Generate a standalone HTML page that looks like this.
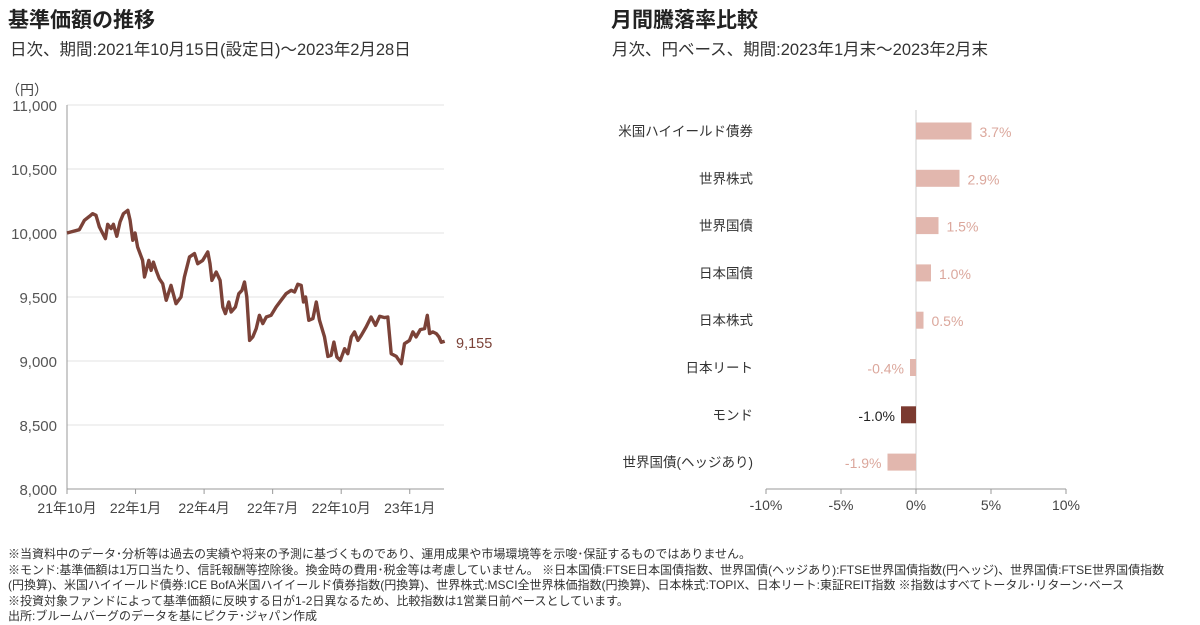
<!DOCTYPE html>
<html><head><meta charset="utf-8">
<style>
body{margin:0;width:1200px;height:625px;background:#fff;overflow:hidden;font-family:"Liberation Sans","Noto Sans CJK JP",sans-serif;color:#333}
.t{position:absolute;white-space:nowrap}
</style></head><body>
<div class="t" style="left:8px;top:4px;font-size:21px;font-weight:bold;color:#222">基準価額の推移</div>
<div class="t" style="left:10px;top:36px;font-size:16.5px;color:#333">日次、期間:2021年10月15日(設定日)～2023年2月28日</div>
<div class="t" style="left:611px;top:4px;font-size:21px;font-weight:bold;color:#222">月間騰落率比較</div>
<div class="t" style="left:612px;top:36px;font-size:16.5px;color:#333">月次、円ベース、期間:2023年1月末～2023年2月末</div>
<svg id="line" style="position:absolute;left:0;top:0" width="600" height="540"></svg>
<svg id="bar" style="position:absolute;left:600px;top:0" width="600" height="540"></svg>
<div class="t" style="left:8px;top:547px;font-size:12px;line-height:15.6px;color:#333">
※当資料中のデータ･分析等は過去の実績や将来の予測に基づくものであり、運用成果や市場環境等を示唆･保証するものではありません。<br>
※モンド:基準価額は1万口当たり、信託報酬等控除後。換金時の費用･税金等は考慮していません。 ※日本国債:FTSE日本国債指数、世界国債(ヘッジあり):FTSE世界国債指数(円ヘッジ)、世界国債:FTSE世界国債指数<br>
(円換算)、米国ハイイールド債券:ICE BofA米国ハイイールド債券指数(円換算)、世界株式:MSCI全世界株価指数(円換算)、日本株式:TOPIX、日本リート:東証REIT指数 ※指数はすべてトータル･リターン･ベース<br>
※投資対象ファンドによって基準価額に反映する日が1-2日異なるため、比較指数は1営業日前ベースとしています。<br>
出所:ブルームバーグのデータを基にピクテ･ジャパン作成</div>
<script>
const months=[0,0.54,0.76,0.98,1.12,1.27,1.42,1.68,1.78,1.93,2.03,2.18,2.32,2.47,2.66,2.76,2.88,2.98,3.09,3.31,3.39,3.58,3.68,3.78,3.90,4.04,4.19,4.34,4.55,4.77,4.99,5.14,5.36,5.58,5.72,5.94,6.16,6.26,6.34,6.53,6.70,6.82,6.93,7.08,7.18,7.37,7.52,7.66,7.77,7.87,7.99,8.13,8.28,8.42,8.57,8.72,8.93,9.15,9.37,9.59,9.81,9.96,10.10,10.25,10.35,10.44,10.58,10.76,10.91,11.05,11.27,11.42,11.56,11.68,11.81,11.96,12.15,12.29,12.44,12.58,12.73,12.88,13.09,13.31,13.50,13.68,13.90,14.04,14.19,14.41,14.63,14.77,14.99,15.14,15.28,15.46,15.65,15.77,15.87,16.01,16.16,16.28,16.38,16.53];
const navValues=[10000,10026,10099,10130,10151,10138,10047,9956,10068,10034,10068,9974,10086,10151,10177,10099,9943,10000,9891,9786,9656,9786,9708,9773,9708,9643,9604,9474,9591,9448,9500,9656,9813,9839,9760,9786,9852,9760,9630,9695,9630,9422,9370,9461,9383,9422,9526,9552,9617,9500,9161,9188,9253,9357,9292,9344,9357,9422,9474,9526,9552,9539,9599,9591,9461,9500,9318,9331,9461,9318,9188,9036,9044,9148,9031,9005,9096,9057,9188,9227,9161,9201,9266,9344,9279,9349,9339,9344,9057,9036,8979,9135,9161,9227,9188,9245,9253,9357,9214,9227,9214,9188,9146,9155];
const yTicks=[8000,8500,9000,9500,10000,10500,11000];
const yTickLabels=["8,000","8,500","9,000","9,500","10,000","10,500","11,000"];
const xTickMonths=[0,3,6,9,12,15];
const xTickLabels=["21年10月","22年1月","22年4月","22年7月","22年10月","23年1月"];
const lastLabel="9,155";
const categories=["米国ハイイールド債券","世界株式","世界国債","日本国債","日本株式","日本リート","モンド","世界国債(ヘッジあり)"];
const returns=[3.7,2.9,1.5,1.0,0.5,-0.4,-1.0,-1.9];
const highlight=[false,false,false,false,false,false,true,false];
const pctTicks=[-10,-5,0,5,10];
const pctLabels=["-10%","-5%","0%","5%","10%"];
const NS="http://www.w3.org/2000/svg";
function mk(svg,tag,attrs,txt){const e=document.createElementNS(NS,tag);for(const k in attrs)e.setAttribute(k,attrs[k]);if(txt!==undefined)e.textContent=txt;svg.appendChild(e);return e;}
const F='"Liberation Sans","Noto Sans CJK JP",sans-serif';
const L=document.getElementById('line');
const xs=m=>67+m*22.85, ys=v=>489-(v-8000)*0.128;
const un=mk(L,'text',{x:6,y:95,'font-size':14,fill:'#444','font-family':F},'（円）');


yTicks.forEach((t,i)=>{
 if(t>8000){const g=mk(L,'line',{x1:67,x2:444,y1:ys(t),y2:ys(t),stroke:'#e3e3e3'});}
 const tx=mk(L,'text',{x:57,y:ys(t)+6,'text-anchor':'end','font-size':15,fill:'#555','font-family':F},yTickLabels[i]);
 
});
mk(L,'line',{x1:67,x2:67,y1:105,y2:489,stroke:'#999'});
mk(L,'line',{x1:67,x2:444,y1:489,y2:489,stroke:'#999'});
xTickMonths.forEach((m,i)=>{
 mk(L,'line',{x1:xs(m),x2:xs(m),y1:489,y2:494,stroke:'#999'});
 const tx=mk(L,'text',{x:xs(m),y:513,'text-anchor':'middle','font-size':14,fill:'#444','font-family':F},xTickLabels[i]);
 
});
const p=mk(L,'path',{d:months.map((m,i)=>(i?'L':'M')+xs(m).toFixed(1)+','+ys(navValues[i]).toFixed(1)).join(''),fill:'none',stroke:'#7b4238','stroke-width':3.4,'stroke-linejoin':'round'});

const ll=mk(L,'text',{x:456,y:ys(navValues[navValues.length-1])+7,'font-size':14.5,fill:'#7b4238','font-family':F},lastLabel);

const B=document.getElementById('bar');
const bx=v=>316+v*15;
const by=i=>131+i*47.3;
mk(B,'line',{x1:bx(0),x2:bx(0),y1:110,y2:489,stroke:'#ccc'});
mk(B,'line',{x1:bx(-10),x2:bx(10),y1:489,y2:489,stroke:'#999'});
pctTicks.forEach((t,i)=>{
 mk(B,'line',{x1:bx(t),x2:bx(t),y1:489,y2:494,stroke:'#999'});
 const tx=mk(B,'text',{x:bx(t),y:510,'text-anchor':'middle','font-size':14,fill:'#444','font-family':F},pctLabels[i]);
 
});
categories.forEach((c,i)=>{
 const v=returns[i],y=by(i);
 const col=highlight[i]?'#7b3a30':'#e2b7ae';
 const tc=highlight[i]?'#222':'#dba79c';
 const ct=mk(B,'text',{x:153,y:y+5,'text-anchor':'end','font-size':13.5,fill:'#333','font-family':F},c);
 
 const r=mk(B,'rect',{x:Math.min(bx(0),bx(v)),y:y-8.5,width:Math.abs(bx(v)-bx(0)),height:17,fill:col});
 
 const lx=v>=0?bx(v)+8:bx(v)-6;
 const vt=mk(B,'text',{x:lx,y:y+6,'text-anchor':v>=0?'start':'end','font-size':14,fill:tc,'font-family':F},v.toFixed(1)+'%');
 
});
</script>
</body></html>
